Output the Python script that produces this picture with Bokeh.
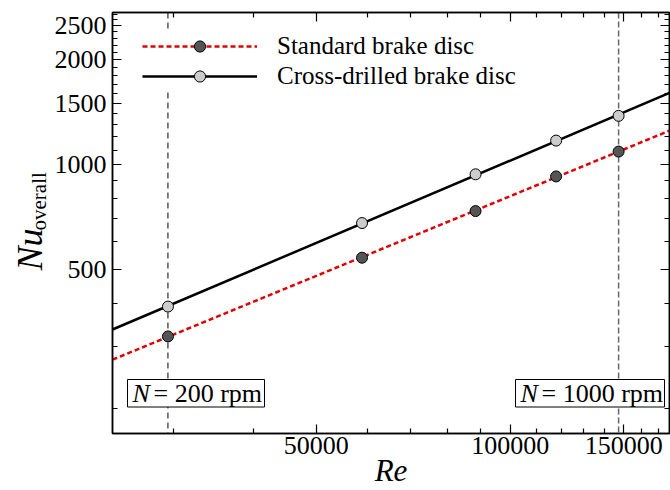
import numpy as np
from bokeh.plotting import figure
from bokeh.layouts import row
from bokeh.models import (Range1d, FixedTicker, PrintfTickFormatter, CustomJSTickFormatter,
                          LogAxis, Span, Label, BoxAnnotation, Legend, LegendItem, Title)
from bokeh.embed import file_html
from bokeh.resources import INLINE

# ---------------- data ----------------
re_vals = [29450, 58900, 88350, 117800, 147250]
nu_standard = [321, 540, 735, 924, 1089]
nu_cross = [391, 679, 937, 1171, 1379]
rpm_marked = [200, 1000]
series_names = ["Standard brake disc", "Cross-drilled brake disc"]

x_major = [50000, 100000, 150000]
x_minor = [30000, 40000, 60000, 70000, 80000, 90000, 110000, 120000, 130000,
           140000, 160000, 170000]
y_major = [500, 1000, 1500, 2000, 2500]
y_minor = [200, 300, 400, 600, 700, 800, 900, 1100, 1200, 1300, 1400, 1600, 1700,
           1800, 1900, 2100, 2200, 2300, 2400, 2600, 2700]

FONT = "Liberation Serif"
RED = "#e00000"
TITLE_W = 51
TOP, BOTTOM = 12, 54

p = figure(width=670 - TITLE_W, height=490, x_axis_type="log", y_axis_type="log",
           x_range=Range1d(24160, 176600), y_range=Range1d(169, 2730),
           output_backend="svg", toolbar_location=None,
           min_border_left=112 - TITLE_W, min_border_right=1, min_border_top=TOP,
           min_border_bottom=BOTTOM)
p.xgrid.visible = False
p.ygrid.visible = False
p.outline_line_color = "black"
p.outline_line_width = 1.5
p.background_fill_color = "white"
p.border_fill_color = "white"


def style_axis(ax, major, minor, show_labels, standoff):
    ax.ticker = FixedTicker(ticks=major, minor_ticks=minor)
    if show_labels:
        ax.formatter = PrintfTickFormatter(format="%d")
    else:
        ax.formatter = CustomJSTickFormatter(code="return ''")
    ax.major_tick_in = 9
    ax.major_tick_out = 0
    ax.minor_tick_in = 5
    ax.minor_tick_out = 0
    ax.axis_line_color = "black"
    ax.axis_line_width = 1.5
    ax.major_tick_line_color = "black"
    ax.major_tick_line_width = 1.2
    ax.minor_tick_line_color = "black"
    ax.minor_tick_line_width = 1.2
    ax.major_label_text_font = FONT
    ax.major_label_text_color = "black"
    ax.major_label_text_font_size = "26px"
    ax.major_label_standoff = standoff


style_axis(p.xaxis[0], x_major, x_minor, True, 3)
style_axis(p.yaxis[0], y_major, y_minor, True, 6)
p.yaxis[0].axis_label = None
xax = p.xaxis[0]
xax.axis_label = "Re"
xax.axis_label_text_font = FONT
xax.axis_label_text_font_style = "italic"
xax.axis_label_text_font_size = "31px"
xax.axis_label_text_color = "black"
xax.axis_label_standoff = -4

top_ax = LogAxis()
right_ax = LogAxis()
style_axis(top_ax, x_major, x_minor, False, 0)
style_axis(right_ax, y_major, y_minor, False, 0)
p.add_layout(top_ax, "above")
p.add_layout(right_ax, "right")

# vertical reference lines at 200 rpm and 1000 rpm
p.add_layout(Span(location=re_vals[0], dimension="height", line_color="black",
                  line_width=1, line_dash="6 4", level="underlay"))
p.add_layout(Span(location=re_vals[-1], dimension="height", line_color="#666666",
                  line_width=1.5, line_dash="6 3", level="underlay"))

# power-law trend lines fitted to the points
x_fit = np.array([p.x_range.start, p.x_range.end])
coef_std = np.polyfit(np.log10(re_vals), np.log10(nu_standard), 1)
coef_crs = np.polyfit(np.log10(re_vals), np.log10(nu_cross), 1)
y_std_fit = 10 ** np.polyval(coef_std, np.log10(x_fit))
y_crs_fit = 10 ** np.polyval(coef_crs, np.log10(x_fit))

l_std = p.line(x_fit, y_std_fit, line_color=RED, line_width=2.5, line_dash="5 3")
l_crs = p.line(x_fit, y_crs_fit, line_color="black", line_width=2.5)
s_std = p.scatter(re_vals, nu_standard, size=11, fill_color="#555555",
                  line_color="black", line_width=1)
s_crs = p.scatter(re_vals, nu_cross, size=11, fill_color="#cccccc",
                  line_color="black", line_width=1)

legend = Legend(items=[LegendItem(label=series_names[0], renderers=[l_std, s_std]),
                       LegendItem(label=series_names[1], renderers=[l_crs, s_crs])],
                location=(30, 343), margin=0, padding=5, spacing=2,
                glyph_width=115, glyph_height=28, label_height=28, label_standoff=20,
                label_text_font=FONT, label_text_font_size="25px", label_text_color="black",
                background_fill_color="white", background_fill_alpha=1.0,
                border_line_color=None)
p.add_layout(legend)

# rpm boxes
boxes = [(15, 152), (403, 552)]
for (bl, br), rpm in zip(boxes, rpm_marked):
    p.add_layout(BoxAnnotation(left=bl, right=br, bottom=26.5, top=54,
                               left_units="screen", right_units="screen",
                               bottom_units="screen", top_units="screen",
                               fill_color="white", fill_alpha=1.0,
                               line_color="black", line_width=1, line_alpha=1.0))
    p.add_layout(Label(x=bl + 5, y=40, x_units="screen", y_units="screen", text="N",
                       text_font=FONT, text_font_style="italic", text_font_size="26px",
                       text_align="left", text_baseline="alphabetic", text_color="black"))
    p.add_layout(Label(x=bl + 26, y=40, x_units="screen", y_units="screen",
                       text=f"= {rpm} rpm",
                       text_font=FONT, text_font_size="26px",
                       text_align="left", text_baseline="alphabetic", text_color="black"))

# y-axis title strip: italic "Nu" with subscript "overall", as rotated side-panel titles
tf = figure(width=TITLE_W, height=490, x_range=Range1d(0, 1), y_range=Range1d(0, 1),
            output_backend="svg", toolbar_location=None,
            min_border_left=43, min_border_right=0, min_border_top=TOP,
            min_border_bottom=BOTTOM, x_axis_location=None, y_axis_location=None)
tf.grid.visible = False
tf.outline_line_color = None
tf.background_fill_color = "white"
tf.border_fill_color = "white"
tf.add_layout(Title(text="overall", text_font=FONT, text_font_size="21px",
                    text_font_style="normal", text_color="black", align="left",
                    vertical_align="middle", offset=203, standoff=-16), "left")
tf.add_layout(Title(text="Nu", text_font=FONT, text_font_size="36px",
                    text_font_style="italic", text_color="black", align="left",
                    vertical_align="middle", offset=163, standoff=-34), "left")

open("out.html", "w").write(file_html(row(tf, p), INLINE))
